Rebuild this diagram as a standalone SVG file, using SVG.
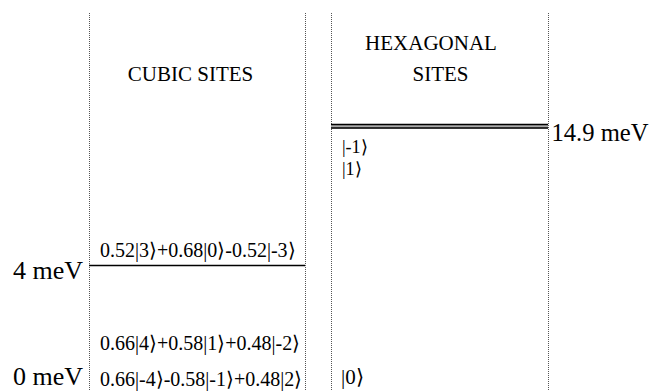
<svg xmlns="http://www.w3.org/2000/svg" width="653" height="391" viewBox="0 0 653 391">
<style>
.t{font-family:"Liberation Serif","Times New Roman",serif;fill:#000}
.title{font-size:21px}
.mev{font-size:26px}
.ket{font-size:20px}
.hket{font-size:18px}
.sep{stroke:#555;stroke-width:1;stroke-dasharray:1 1;fill:none}
.lvl{stroke:#000;stroke-width:1.3;fill:none}
</style>
<rect width="653" height="391" fill="#fff"/>
<g id="separators">
<line class="sep" x1="89.5" y1="13" x2="89.5" y2="391"/>
<line class="sep" x1="305.5" y1="13" x2="305.5" y2="391"/>
<line class="sep" x1="331.5" y1="13" x2="331.5" y2="391"/>
<line class="sep" x1="548.5" y1="13" x2="548.5" y2="391"/>
</g>
<g id="cubic">
<text class="t title" x="190.5" y="81" text-anchor="middle">CUBIC SITES</text>
<text class="t ket" x="100" y="256.5">0.52|3⟩+0.68|0⟩-0.52|-3⟩</text>
<line class="lvl" x1="89" y1="265.5" x2="305" y2="265.5"/>
<text class="t mev" x="13" y="279">4 meV</text>
<text class="t ket" x="100" y="350">0.66|4⟩+0.58|1⟩+0.48|-2⟩</text>
<text class="t ket" x="100" y="386">0.66|-4⟩-0.58|-1⟩+0.48|2⟩</text>
<text class="t mev" x="13" y="384.5">0 meV</text>
</g>
<g id="hexagonal">
<text class="t title" x="431" y="50" text-anchor="middle">HEXAGONAL</text>
<text class="t title" x="440.5" y="81" text-anchor="middle">SITES</text>
<rect x="331" y="124" width="217" height="4.5" fill="#aaa"/>
<line class="lvl" x1="331" y1="124.5" x2="548" y2="124.5" stroke-width="1"/>
<line class="lvl" x1="331" y1="128" x2="548" y2="128" stroke-width="1"/>
<text class="t mev" x="551.5" y="141" textLength="97" lengthAdjust="spacingAndGlyphs">14.9 meV</text>
<text class="t hket" x="342" y="152.5">|-1⟩</text>
<text class="t hket" x="342" y="175">|1⟩</text>
<text class="t" font-size="21" x="341" y="384">|0⟩</text>
</g>
</svg>
